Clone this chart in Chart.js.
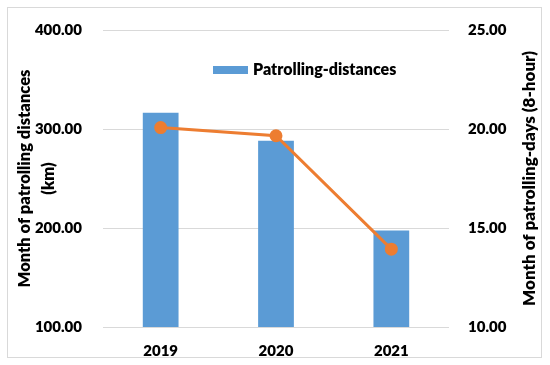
<!DOCTYPE html>
<html>
<head>
<meta charset="utf-8">
<script src="https://cdn.jsdelivr.net/npm/chart.js@4"></script>
<style>
  body { margin: 0; background: #fff; }
  #wrap { width: 550px; height: 365px; }
</style>
</head>
<body>
<div id="wrap"><canvas id="myChart" width="550" height="365"></canvas></div>
<script>
// Data
const years = ['2019', '2020', '2021'];
const distances = [316.3, 288.2, 197.6];   // km, left axis
const patrolDays = [20.07, 19.66, 13.93];  // days, right axis
const leftTitle = ['Month of patrolling distances', '(km)'];
const rightTitle = 'Month of patrolling-days (8-hour)';

const fontFamily = 'Lato, "Open Sans", sans-serif';
const weight = '800';

// Outer frame + right axis title + legend drawn inside the plot
const extras = {
    id: 'extras',
    beforeDraw(chart) {
        const ctx = chart.ctx;
        ctx.save();
        ctx.strokeStyle = '#d9d9d9';
        ctx.lineWidth = 1;
        ctx.strokeRect(7.5, 7.5, 534, 350);
        ctx.restore();
    },
    afterDraw(chart) {
        const ctx = chart.ctx;
        const area = chart.chartArea;
        ctx.save();
        // right title, reads bottom to top
        ctx.font = weight + ' 17px ' + fontFamily;
        ctx.fillStyle = '#000';
        ctx.textAlign = 'center';
        ctx.textBaseline = 'middle';
        ctx.translate(530, (area.top + area.bottom) / 2);
        ctx.rotate(-Math.PI / 2);
        ctx.fillText(rightTitle, 0, 0);
        ctx.restore();

        // legend (bar series only)
        const ds = chart.data.datasets[0];
        ctx.save();
        ctx.fillStyle = ds.backgroundColor;
        ctx.fillRect(213, 66, 35, 8);
        ctx.font = weight + ' 16px ' + fontFamily;
        ctx.fillStyle = '#000';
        ctx.textBaseline = 'middle';
        ctx.fillText(ds.label, 253, 70);
        ctx.restore();
    }
};

const data = {
    labels: years,
    datasets: [{
        type: 'bar',
        label: 'Patrolling-distances',
        data: distances,
        yAxisID: 'y',
        backgroundColor: '#5B9BD5',
        categoryPercentage: 1,
        barPercentage: 0.31,
        order: 1
    }, {
        type: 'line',
        label: 'Patrolling-days',
        data: patrolDays,
        yAxisID: 'y1',
        borderColor: '#ED7D31',
        backgroundColor: '#ED7D31',
        borderWidth: 3,
        pointRadius: 5,
        pointHoverRadius: 5,
        order: 0
    }]
};

const config = {
    type: 'bar',
    data: data,
    options: {
        responsive: false,
        animation: false,
        layout: { padding: { top: 26, bottom: 0, left: 0, right: 0 } },
        plugins: {
            legend: { display: false },
            tooltip: { enabled: false }
        },
        scales: {
            x: {
                grid: { display: false },
                border: { display: false },
                ticks: {
                    color: '#000',
                    padding: 7,
                    font: { family: fontFamily, size: 15, weight: weight }
                },
                afterFit(scale) { scale.height = 38; }
            },
            y: {
                position: 'left',
                min: 100,
                max: 400,
                ticks: {
                    stepSize: 100,
                    color: '#000',
                    padding: 21,
                    font: { family: fontFamily, size: 15, weight: weight },
                    callback: v => v.toFixed(2)
                },
                grid: { color: '#d9d9d9', drawTicks: false },
                border: { display: false },
                title: {
                    display: true,
                    text: leftTitle,
                    color: '#000',
                    padding: { top: 12, bottom: 0 },
                    font: { family: fontFamily, size: 16.5, weight: weight, lineHeight: 1.5 }
                },
                afterFit(scale) { scale.width = 103; }
            },
            y1: {
                position: 'right',
                min: 10,
                max: 25,
                ticks: {
                    stepSize: 5,
                    color: '#000',
                    padding: 19,
                    font: { family: fontFamily, size: 15, weight: weight },
                    callback: v => v.toFixed(2)
                },
                grid: { display: false, drawTicks: false },
                border: { display: false },
                afterFit(scale) { scale.width = 101; }
            }
        }
    },
    plugins: [extras]
};

const chart = new Chart(document.getElementById('myChart'), config);
</script>
</body>
</html>
